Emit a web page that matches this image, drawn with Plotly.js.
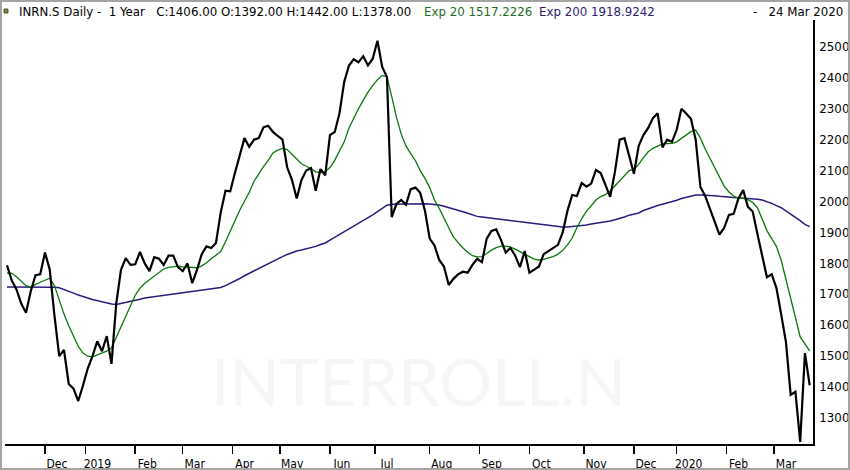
<!DOCTYPE html>
<html><head><meta charset="utf-8">
<script src="https://cdn.plot.ly/plotly-3.0.1.min.js"></script>
<style>
html,body{margin:0;padding:0;background:#fff;}
#chart{position:absolute;left:0;top:0;width:850px;height:470px;}
#frame{position:absolute;left:0;top:0;width:850px;height:470px;box-sizing:border-box;border:2px solid #a4a4a4;pointer-events:none;}
</style>
</head><body>
<div id="chart"></div><div id="frame"></div>
<script>
// one sample every 2 trading days, starting mid Nov 2018, ending 24 Mar 2020
const dayStep = 2;

const closePrices = [
 1794,1745,1716,1670,1640,1710,1762,1765,1835,1780,
 1630,1500,1520,1410,1395,1355,1405,1460,1500,1548,
 1516,1565,1475,1670,1779,1817,1795,1797,1837,1800,
 1775,1820,1815,1795,1825,1825,1788,1775,1800,1736,
 1779,1830,1855,1850,1866,1965,2035,2033,2093,2150,
 2205,2177,2200,2205,2240,2245,2225,2212,2200,2110,
 2070,2010,2070,2100,2108,2035,2105,2085,2215,2225,
 2285,2387,2440,2460,2450,2470,2440,2462,2520,2435,
 2403,1950,1992,2005,1990,2040,2045,2028,1970,1880,
 1858,1811,1790,1730,1750,1765,1773,1770,1795,1815,
 1804,1880,1905,1910,1876,1835,1850,1825,1788,1840,
 1770,1780,1790,1830,1840,1848,1860,1900,1970,2021,
 2018,2060,2048,2058,2102,2092,2050,2015,2096,2200,
 2205,2150,2090,2180,2215,2238,2270,2285,2175,2200,
 2193,2232,2300,2285,2268,2200,2047,2018,1973,1935,
 1893,1915,1957,1960,2010,2037,1983,1968,1895,1820,
 1755,1765,1720,1635,1546,1375,1385,1223,1510,1406
];

const ema20 = [
 1769,1768,1757,1742,1728,1722,1732,1739,1745,1752,
 1728,1682,1636,1598,1562,1532,1510,1500,1498,1504,
 1509,1516,1526,1560,1598,1632,1664,1697,1720,1736,
 1747,1758,1771,1782,1787,1789,1791,1789,1788,1788,
 1786,1792,1802,1815,1828,1838,1870,1902,1938,1972,
 2000,2030,2065,2090,2113,2133,2157,2166,2172,2168,
 2152,2135,2122,2114,2107,2096,2094,2097,2110,2133,
 2163,2193,2238,2270,2300,2327,2354,2375,2394,2408,
 2403,2340,2272,2218,2180,2155,2132,2100,2075,2045,
 2005,1978,1945,1915,1885,1866,1850,1836,1825,1821,
 1822,1832,1843,1851,1856,1856,1853,1846,1837,1830,
 1822,1814,1811,1813,1818,1822,1830,1842,1860,1882,
 1916,1945,1968,1986,2005,2016,2022,2034,2050,2068,
 2085,2100,2104,2120,2142,2161,2172,2180,2186,2187,
 2188,2193,2205,2216,2226,2231,2205,2170,2141,2110,
 2080,2050,2031,2018,2010,2010,2006,1997,1980,1941,
 1906,1880,1855,1810,1745,1690,1625,1562,1538,1517
];

const ema200 = [
 1724,1724,1724,1724,1723,1722,1722,1723,1724,1724,
 1723,1721,1716,1710,1704,1698,1692,1688,1683,1679,
 1676,1672,1669,1667,1670,1674,1677,1680,1684,1688,
 1690,1692,1695,1697,1699,1701,1703,1705,1706,1708,
 1710,1712,1714,1716,1719,1722,1728,1735,1743,1751,
 1760,1768,1775,1783,1791,1800,1808,1815,1822,1829,
 1835,1840,1843,1847,1850,1855,1861,1866,1875,1884,
 1893,1902,1911,1919,1928,1938,1947,1957,1967,1977,
 1988,1991,1992,1992,1992,1992,1993,1994,1993,1992,
 1991,1989,1985,1981,1976,1972,1967,1962,1957,1952,
 1950,1948,1946,1945,1943,1941,1939,1937,1935,1933,
 1931,1929,1927,1925,1923,1921,1920,1918,1918,1919,
 1921,1922,1924,1927,1929,1931,1934,1937,1941,1945,
 1950,1956,1960,1963,1971,1977,1982,1987,1991,1995,
 1999,2004,2010,2014,2018,2021,2021,2021,2021,2019,
 2017,2015,2014,2013,2012,2011,2011,2009,2007,2005,
 2000,1994,1987,1980,1970,1960,1950,1938,1926,1919
];

// trading-day index of the first session of each month
const monthTickDays = [16,33,54,74,95,115,136,155,178,199,220,243,264,282,303,323];
const monthTickLabels = ['Dec','2019','Feb','Mar','Apr','May','Jun','Jul','Aug','Sep','Oct','Nov','Dec','2020','Feb','Mar'];
const priceTicks = [1300,1400,1500,1600,1700,1800,1900,2000,2100,2200,2300,2400,2500];

const headerMain = 'INRN.S Daily -\u00A0\u00A01 Year\u00A0\u00A0\u00A0C:1406.00 O:1392.00 H:1442.00 L:1378.00';
const headerEma20 = 'Exp 20 1517.2226';
const headerEma200 = 'Exp 200 1918.9242';
const headerDate = '-\u00A0\u00A0\u00A024 Mar 2020';
const watermark = 'INTERROLL.N';

const dayIndex = closePrices.map((_, i) => i * dayStep);

const traces = [
  {x: dayIndex, y: ema200, type: 'scatter', mode: 'lines', line: {color: '#2b1b7e', width: 1.5}},
  {x: dayIndex, y: ema20, type: 'scatter', mode: 'lines', line: {color: '#0a780a', width: 1.3}},
  {x: dayIndex, y: closePrices, type: 'scatter', mode: 'lines', line: {color: '#000000', width: 2.2}}
];

const hdrFont = {family: 'DejaVu Sans, Verdana, sans-serif', size: 11.8, color: '#000'};

const layout = {
  width: 850, height: 470,
  margin: {l: 5, r: 37, t: 20, b: 26, pad: 0},
  paper_bgcolor: '#fff', plot_bgcolor: '#fff',
  showlegend: false,
  xaxis: {
    range: [-0.84, 339.4], showgrid: false, zeroline: false,
    showline: true, linecolor: '#000', linewidth: 2,
    ticks: 'outside', ticklen: 8, tickwidth: 1.5, tickcolor: '#000',
    tickmode: 'array', tickvals: monthTickDays, ticktext: monthTickLabels,
    ticklabelshift: 12,
    tickfont: {family: 'DejaVu Sans Condensed, Liberation Sans Narrow, sans-serif', size: 12, color: '#000'},
    automargin: false, fixedrange: true
  },
  yaxis: {
    range: [1216, 2587], side: 'right', showgrid: false, zeroline: false,
    showline: true, linecolor: '#000', linewidth: 2,
    ticks: '', tickmode: 'array', tickvals: priceTicks,
    ticktext: priceTicks.map(String),
    ticklabelstandoff: 2,
    tickfont: {family: 'DejaVu Sans, Verdana, sans-serif', size: 11.8, color: '#000'},
    automargin: false, fixedrange: true
  },
  shapes: [
    {type: 'rect', xref: 'paper', yref: 'paper',
     x0: -1/808, x1: 3/808, y0: 1 + 7/424, y1: 1 + 11/424,
     fillcolor: '#8c8c3a', line: {color: '#333', width: 0.8}}
  ],
  annotations: [
    {text: watermark, xref: 'paper', yref: 'paper', x: 0.512, y: 0.149,
     xanchor: 'center', yanchor: 'middle', showarrow: false,
     font: {family: 'Lato, sans-serif', size: 66, color: '#f6f6f6'}},
    {text: headerMain, xref: 'paper', yref: 'paper', x: 0, y: 1, xshift: 12, yshift: 8,
     xanchor: 'left', yanchor: 'middle', showarrow: false, font: hdrFont},
    {text: headerEma20, xref: 'paper', yref: 'paper', x: 0, y: 1, xshift: 417, yshift: 8,
     xanchor: 'left', yanchor: 'middle', showarrow: false,
     font: {family: hdrFont.family, size: hdrFont.size, color: '#1d6b1d'}},
    {text: headerEma200, xref: 'paper', yref: 'paper', x: 0, y: 1, xshift: 532, yshift: 8,
     xanchor: 'left', yanchor: 'middle', showarrow: false,
     font: {family: hdrFont.family, size: hdrFont.size, color: '#2d1b6b'}},
    {text: headerDate, xref: 'paper', yref: 'paper', x: 0, y: 1, xshift: 840, yshift: 8,
     xanchor: 'right', yanchor: 'middle', showarrow: false, font: hdrFont}
  ]
};

Plotly.newPlot('chart', traces, layout, {staticPlot: true, displayModeBar: false});
</script>
</body></html>
